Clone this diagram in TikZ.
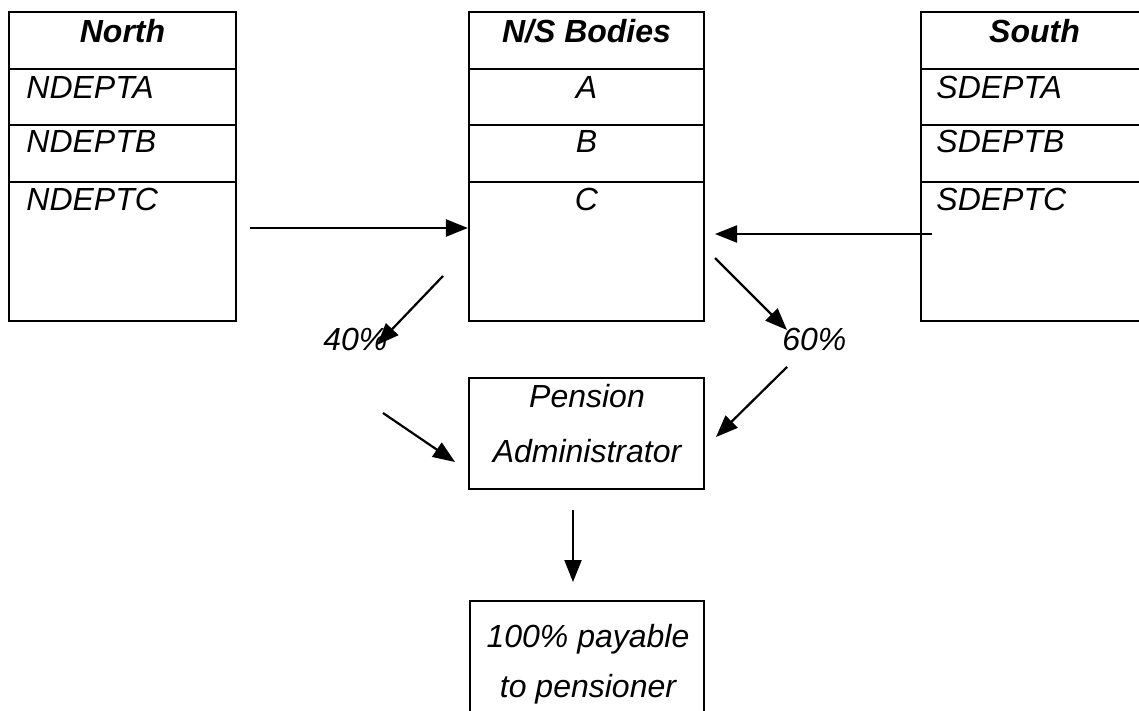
\documentclass[tikz,border=0pt]{standalone}
\usepackage{fontspec}
\setmainfont{Liberation Sans}
\usetikzlibrary{arrows.meta}

\tikzset{
  box/.style={draw, line width=1.1pt, inner sep=0pt},
  txt/.style={font=\fontsize{16}{19}\selectfont\itshape, inner sep=0pt, anchor=base},
  hd/.style={txt, font=\fontsize{16}{19}\selectfont\bfseries\itshape},
  arr/.style={-{Triangle[length=11pt,width=8.5pt]}, line width=1.1pt},
}

\begin{document}
\begin{tikzpicture}[x=0.5pt,y=-0.5pt]
  \useasboundingbox (0,0) rectangle (1139,711);
  \clip (0,0) rectangle (1139,711);

  % the three columns
  \node[box, minimum width=113.5pt, minimum height=154.5pt] (north)  at (122.5,166.5) {};
  \node[box, minimum width=117.5pt, minimum height=154.5pt] (bodies) at (586.5,166.5) {};
  \node[box, minimum width=113.5pt, minimum height=154.5pt] (south)  at (1034.5,166.5) {};
  \foreach \y in {69,125,182} {
    \draw[line width=1.1pt] (north.west |- 0,\y) -- (north.east |- 0,\y);
    \draw[line width=1.1pt] (bodies.west |- 0,\y) -- (bodies.east |- 0,\y);
    \draw[line width=1.1pt] (south.west |- 0,\y) -- (south.east |- 0,\y);
  }

  \node[hd] (northhd) at (122.5,42.5) {North};
  \node[txt, anchor=base west] (nda) at (26,99) {NDEPTA};
  \node[txt, anchor=base west] (ndb) at (26,153) {NDEPTB};
  \node[txt, anchor=base west] (ndc) at (26,211) {NDEPTC};

  \node[hd] (bodieshd) at (586.5,42.5) {N/S Bodies};
  \node[txt] (bda) at (586.5,99) {A};
  \node[txt] (bdb) at (586.5,153) {B};
  \node[txt] (bdc) at (586.5,211) {C};

  \node[hd] (southhd) at (1034.5,42.5) {South};
  \node[txt, anchor=base west] (sda) at (936,99) {SDEPTA};
  \node[txt, anchor=base west] (sdb) at (936,153) {SDEPTB};
  \node[txt, anchor=base west] (sdc) at (936,211) {SDEPTC};

  % administrator and payee
  \node[box, minimum width=117.5pt, minimum height=55.5pt] (admin) at (586.5,433.5) {};
  \node[txt] (admin1) at (587,407) {Pension};
  \node[txt] (admin2) at (587,462) {Administrator};

  \node[box, minimum width=117pt, minimum height=60pt] (payee) at (587,661) {};
  \node[txt] (payee1) at (588,647) {100\% payable};
  \node[txt] (payee2) at (588,697) {to pensioner};

  \node[txt, anchor=base west] (p40) at (323,350) {40\%};
  \node[txt, anchor=base west] (p60) at (782,350) {60\%};

  % flows
  \coordinate (nout) at (250,228);
  \coordinate (sout) at (932,234);
  \coordinate (bin)  at (715,234);
  \coordinate (bl)   at (443,276);
  \coordinate (bl2)  at (377,345);
  \coordinate (br)   at (715,258);
  \coordinate (br2)  at (787,330);
  \coordinate (al)   at (383,413);
  \coordinate (al2)  at (455,462);
  \coordinate (ar)   at (787,367);
  \coordinate (ar2)  at (716,437);
  \coordinate (dn)   at (573,510);
  \coordinate (dn2)  at (573,582);

  \draw[arr] (nout) -- (bodies.west |- nout);
  \draw[arr] (sout) -- (bin);
  \draw[arr] (bl) -- (bl2);
  \draw[arr] (br) -- (br2);
  \draw[arr] (al) -- (al2);
  \draw[arr] (ar) -- (ar2);
  \draw[arr] (dn) -- (dn2);
\end{tikzpicture}
\end{document}
